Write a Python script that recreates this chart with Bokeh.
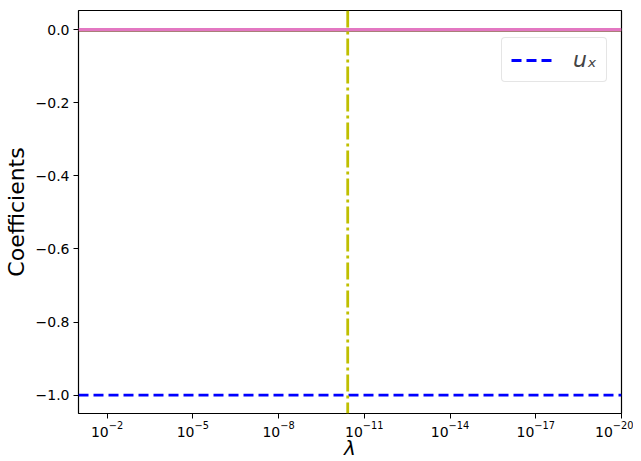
from bokeh.plotting import figure
from bokeh.models import Range1d, FixedTicker, Span, Legend, LegendItem, LogTickFormatter
from bokeh.embed import file_html
from bokeh.resources import INLINE

# Data
lam = [1e-1, 1e-20]
ux = [-1.0, -1.0]
other_coef = [0.0, 0.0]
other_coef2 = [-0.002, -0.002]
lam_opt = 3.8e-11

x_ticks = [1e-2, 1e-5, 1e-8, 1e-11, 1e-14, 1e-17, 1e-20]
y_ticks = [0.0, -0.2, -0.4, -0.6, -0.8, -1.0]
y_tick_labels = ["0.0", "−0.2", "−0.4", "−0.6", "−0.8", "−1.0"]

FONT = "DejaVu Sans"

p = figure(
    output_backend="svg", toolbar_location=None,
    x_axis_type="log",
    x_range=Range1d(1e-1, 1e-20), y_range=Range1d(-1.05, 0.052),
    frame_width=543, frame_height=403,
    min_border_left=76, min_border_top=10, min_border_right=12, min_border_bottom=2,
)
p.grid.visible = False
p.outline_line_color = "black"
p.outline_line_width = 1.2

p.line(lam, other_coef2, line_color="#8c564b", line_width=3)
p.line(lam, other_coef, line_color="#e377c2", line_width=3)
r_ux = p.line(lam, ux, line_color="#0000ff", line_width=2.8, line_dash="10 5")
p.add_layout(Span(location=lam_opt, dimension="height", line_color="#bfbf00",
                  line_width=2.8, line_dash="17 4 3 4"))

for ax in (p.xaxis[0], p.yaxis[0]):
    ax.major_label_text_font = FONT
    ax.major_label_text_font_size = "14px"
    ax.major_label_text_color = "black"
    ax.axis_line_color = None
    ax.major_tick_line_color = "black"
    ax.major_tick_in = 0
    ax.major_tick_out = 5
    ax.minor_tick_line_color = None
    ax.axis_label_text_font = FONT
    ax.axis_label_text_font_size = "22px"
    ax.axis_label_text_font_style = "normal"
    ax.axis_label_text_color = "black"

p.xaxis.ticker = FixedTicker(ticks=x_ticks, minor_ticks=[])
p.xaxis.formatter = LogTickFormatter()
p.xaxis.axis_label = "λ"
p.xaxis.axis_label_text_font_size = "20px"
p.xaxis.axis_label_text_font_style = "italic"
p.xaxis.axis_label_standoff = -4
p.xaxis.major_label_standoff = 2

p.yaxis.ticker = FixedTicker(ticks=y_ticks, minor_ticks=[])
p.yaxis.major_label_overrides = dict(zip(y_ticks, y_tick_labels))
p.yaxis.axis_label = "Coefficients"
p.yaxis.axis_label_standoff = 4
p.yaxis.major_label_standoff = 4

legend = Legend(items=[LegendItem(label="uₓ", renderers=[r_ux])],
                location=(423, 331))
legend.label_text_font = FONT
legend.label_text_font_size = "22px"
legend.label_text_font_style = "italic"
legend.border_line_color = "#cccccc"
legend.border_radius = 4
legend.glyph_width = 42
legend.glyph_height = 20
legend.label_standoff = 20
legend.padding = 9
legend.margin = 0
legend.background_fill_alpha = 0.8
p.add_layout(legend)

open("out.html", "w").write(file_html(p, INLINE))
